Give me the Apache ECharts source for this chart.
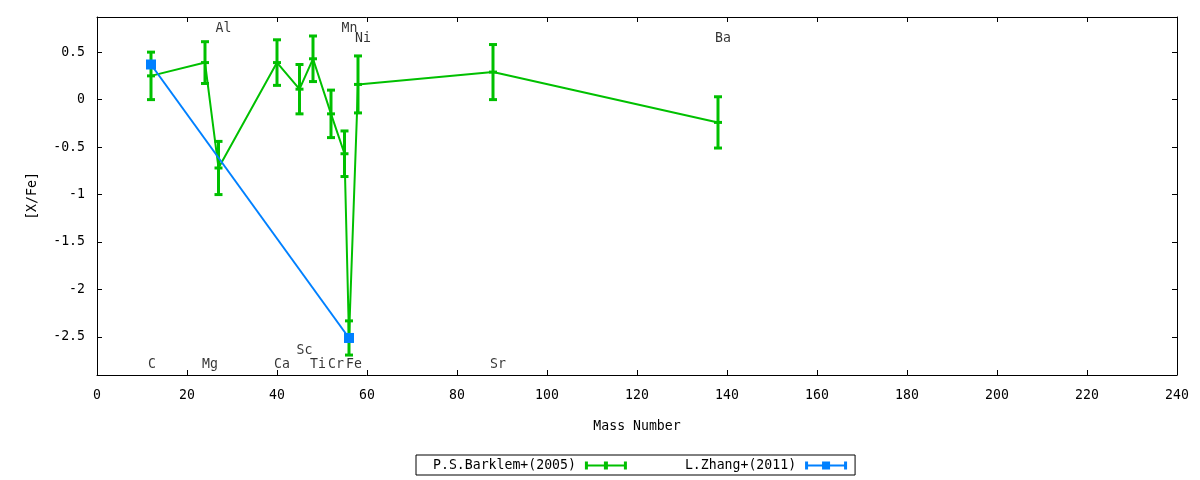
<!DOCTYPE html>
<html>
<head>
    <meta charset="utf-8">
    <title>[X/Fe] vs Mass Number</title>
    <script src="https://cdn.jsdelivr.net/npm/echarts@6/dist/echarts.min.js"></script>
    <style>
        body { margin: 0; background: #fff; }
    </style>
</head>
<body>
    <div id="main" style="width: 1200px;height:480px;"></div>
    <script type="text/javascript">
        // element names and their mass numbers
        var elements = ['C', 'Mg', 'Al', 'Ca', 'Sc', 'Ti', 'Cr', 'Mn', 'Fe', 'Ni', 'Sr', 'Ba'];
        var masses = [12, 24, 27, 40, 45, 48, 52, 55, 56, 58, 88, 138];
        // height (in [X/Fe]) at which each element name is written
        var labelY = [-2.77, -2.77, 0.77, -2.77, -2.62, -2.77, -2.77, 0.77, -2.77, 0.66, -2.77, 0.66];

        // P.S.Barklem+(2005)
        var barklemValues = [0.25, 0.39, -0.72, 0.39, 0.11, 0.43, -0.15, -0.57, -2.51, 0.16, 0.29, -0.24];
        var barklemErrors = [0.25, 0.22, 0.28, 0.24, 0.26, 0.24, 0.25, 0.24, 0.18, 0.30, 0.29, 0.27];

        // L.Zhang+(2011)
        var zhangMasses = [12, 56];
        var zhangValues = [0.37, -2.51];
        var zhangErrors = [0, 0];

        var yTicks = [-2.5, -2, -1.5, -1, -0.5, 0, 0.5];

        var green = '#00c000';
        var blue = '#0080ff';
        var font = 'DejaVu Sans Mono';
        var fs = 13.2;

        function errData(xs, vals, errs) {
            return xs.map(function (x, i) {
                return [x, vals[i], vals[i] - errs[i], vals[i] + errs[i]];
            });
        }

        function errRenderer(color) {
            return function (params, api) {
                var c = api.coord([api.value(0), api.value(1)]);
                var lo = api.coord([api.value(0), api.value(2)]);
                var hi = api.coord([api.value(0), api.value(3)]);
                var h = 4;
                var st = { stroke: color, lineWidth: 3 };
                return {
                    type: 'group',
                    children: [
                        { type: 'line', shape: { x1: lo[0], y1: lo[1], x2: hi[0], y2: hi[1] }, style: st },
                        { type: 'line', shape: { x1: lo[0] - h, y1: lo[1], x2: lo[0] + h, y2: lo[1] }, style: st },
                        { type: 'line', shape: { x1: hi[0] - h, y1: hi[1], x2: hi[0] + h, y2: hi[1] }, style: st },
                        { type: 'line', shape: { x1: c[0] - h, y1: c[1], x2: c[0] + h, y2: c[1] }, style: st }
                    ]
                };
            };
        }

        var axisLine = { show: true, onZero: false, lineStyle: { color: '#000', width: 1 } };
        var tick = { show: true, inside: true, length: 5, lineStyle: { color: '#000' } };

        var greenIcon = 'path://M0,3H42V5H0Z M0,0H3V8H0Z M39,0H42V8H39Z M19,0H23V8H19Z';
        var blueIcon = 'path://M0,3H42V5H0Z M0,0H3V8H0Z M39,0H42V8H39Z M17,0H25V8H17Z';

        var myChart = echarts.init(document.getElementById('main'));

        option = {
            animation: false,
            grid: { left: 97, right: 23, top: 17, bottom: 105 },
            legend: {
                left: 416,
                top: 455,
                align: 'right',
                itemGap: 58,
                itemWidth: 42,
                itemHeight: 8,
                padding: [4, 8, 3, 17],
                borderColor: '#000',
                borderWidth: 1,
                borderRadius: 0,
                textStyle: { fontFamily: font, fontSize: fs, color: '#000', padding: [0, 4, 0, 0] },
                data: [
                    { name: 'P.S.Barklem+(2005)', icon: greenIcon },
                    { name: 'L.Zhang+(2011)', icon: blueIcon }
                ]
            },
            xAxis: [{
                type: 'value',
                position: 'bottom',
                min: 0,
                max: 240,
                interval: 20,
                name: 'Mass Number',
                nameLocation: 'middle',
                nameGap: 45,
                nameTextStyle: { fontFamily: font, fontSize: fs, color: '#000' },
                axisLine: axisLine,
                axisTick: tick,
                axisLabel: { fontFamily: font, fontSize: fs, color: '#000', margin: 14 },
                splitLine: { show: false }
            }, {
                type: 'value',
                position: 'top',
                min: 0,
                max: 240,
                interval: 20,
                axisLine: axisLine,
                axisTick: tick,
                axisLabel: { show: false },
                splitLine: { show: false }
            }],
            yAxis: [{
                type: 'value',
                position: 'left',
                min: -2.9,
                max: 0.87,
                name: '[X/Fe]',
                nameLocation: 'middle',
                nameGap: 58,
                nameTextStyle: { fontFamily: font, fontSize: fs, color: '#000' },
                axisLine: axisLine,
                axisTick: { show: true, inside: true, length: 5, lineStyle: { color: '#000' }, customValues: yTicks },
                axisLabel: { fontFamily: font, fontSize: fs, color: '#000', margin: 12, customValues: yTicks },
                splitLine: { show: false }
            }, {
                type: 'value',
                position: 'right',
                min: -2.9,
                max: 0.87,
                axisLine: axisLine,
                axisTick: { show: true, inside: true, length: 5, lineStyle: { color: '#000' }, customValues: yTicks },
                axisLabel: { show: false },
                splitLine: { show: false }
            }],
            series: [{
                name: 'P.S.Barklem+(2005)',
                type: 'line',
                data: masses.map(function (m, i) { return [m, barklemValues[i]]; }),
                showSymbol: false,
                lineStyle: { color: green, width: 2 },
                itemStyle: { color: green }
            }, {
                name: 'P.S.Barklem+(2005)',
                type: 'custom',
                data: errData(masses, barklemValues, barklemErrors),
                renderItem: errRenderer(green),
                itemStyle: { color: green },
                encode: { x: 0, y: [1, 2, 3] }
            }, {
                type: 'scatter',
                silent: true,
                symbolSize: 0,
                data: masses.map(function (m, i) { return { name: elements[i], value: [m, labelY[i]] }; }),
                label: {
                    show: true,
                    position: 'right',
                    distance: 0,
                    offset: [-3, 2],
                    formatter: '{b}',
                    fontFamily: font,
                    fontSize: fs,
                    color: '#000'
                }
            }, {
                name: 'L.Zhang+(2011)',
                type: 'line',
                data: zhangMasses.map(function (m, i) { return [m, zhangValues[i]]; }),
                symbol: 'rect',
                symbolSize: 10,
                lineStyle: { color: blue, width: 2 },
                itemStyle: { color: blue }
            }, {
                name: 'L.Zhang+(2011)',
                type: 'custom',
                data: errData(zhangMasses, zhangValues, zhangErrors),
                renderItem: errRenderer(blue),
                itemStyle: { color: blue },
                encode: { x: 0, y: [1, 2, 3] }
            }]
        };

        myChart.setOption(option);
    </script>
</body>
</html>
